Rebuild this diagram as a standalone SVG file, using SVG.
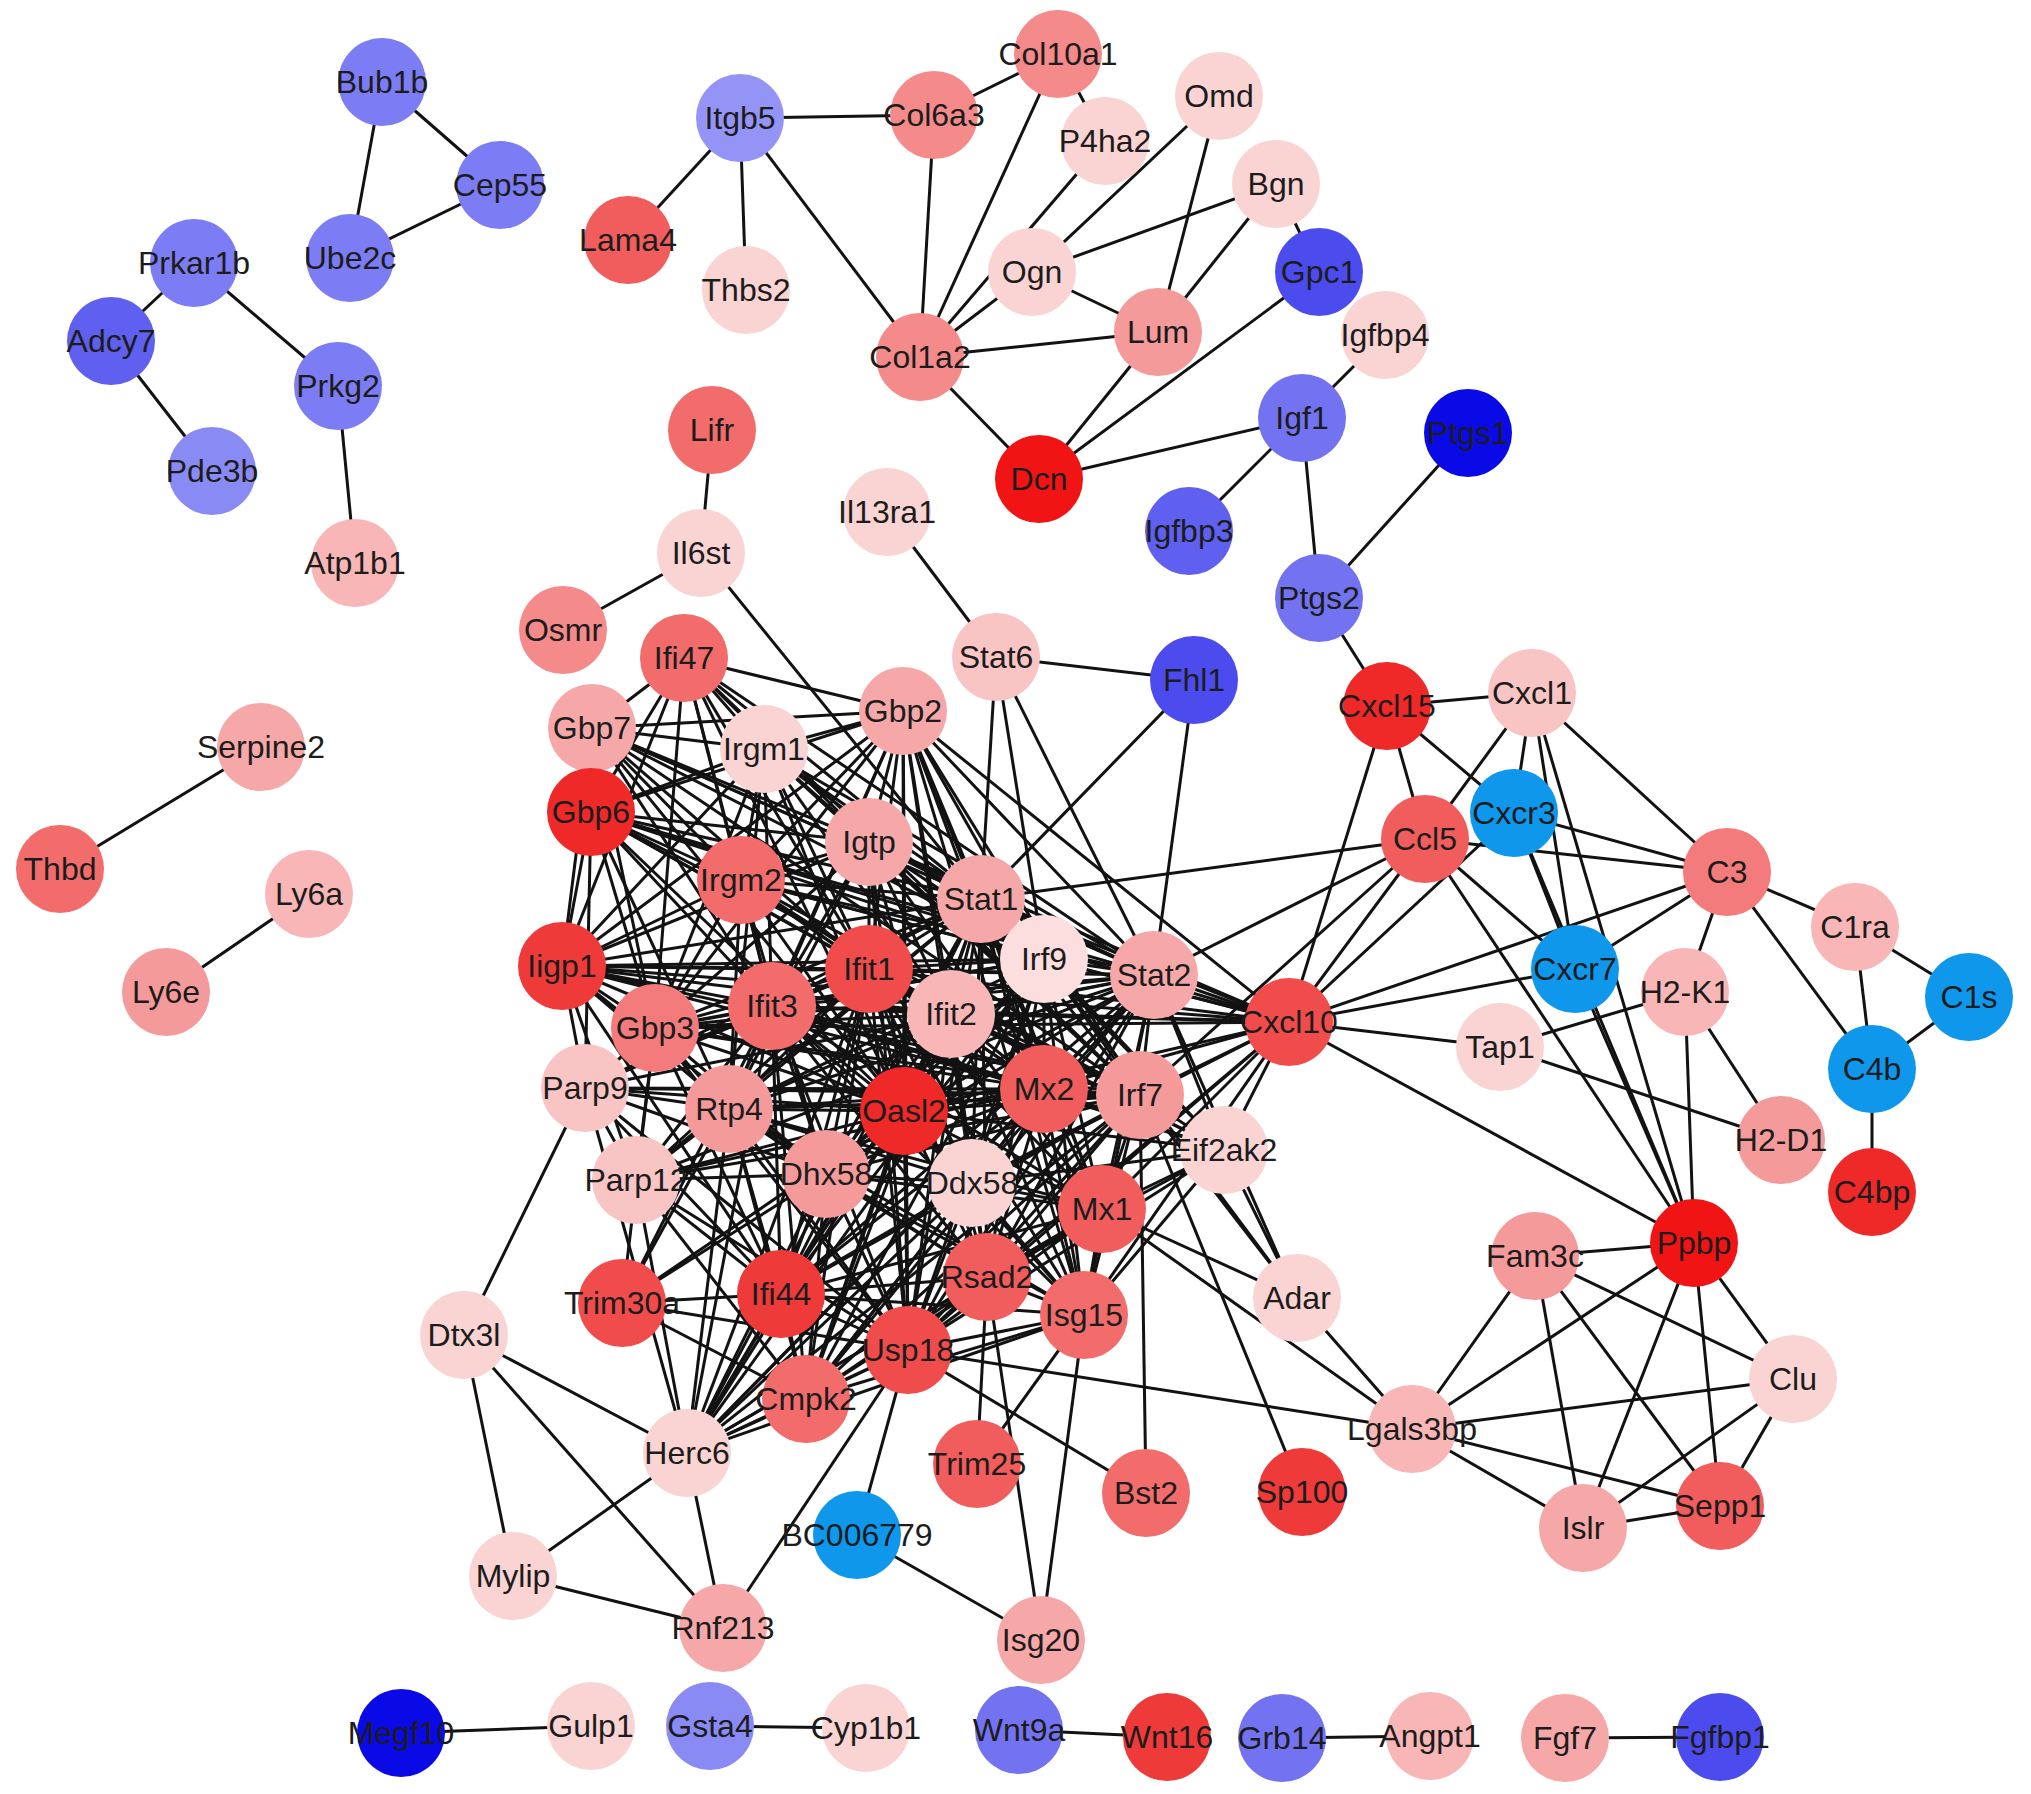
<svg xmlns="http://www.w3.org/2000/svg" width="2031" height="1794" viewBox="0 0 2031 1794">
<style>
.e path{stroke:#121212;stroke-width:3;fill:none}
circle{stroke:none}
text{font-family:"Liberation Sans",Arial,sans-serif;font-size:32px;fill:#1c1c1c;text-anchor:middle}
.dB{fill:#0a0ae6}.cy{fill:#0f97ec}.b1{fill:#4c4cee}.b2{fill:#5f5ff0}.b3{fill:#7373f2}.b4{fill:#7c7cf4}.b5{fill:#8a8af5}.b6{fill:#9494f6}
.r1{fill:#f01414}.r2{fill:#ef2828}.r3{fill:#ef3a3a}.r4{fill:#f04c4c}.r5{fill:#f15c5c}.r6{fill:#f26c6c}.r7{fill:#f37b7b}.r8{fill:#f48a8a}.r9{fill:#f59a9a}.r10{fill:#f6a8a8}.r11{fill:#f8b6b6}.r12{fill:#f9c4c4}.r13{fill:#fad3d3}.r14{fill:#fcdede}
</style>
<rect width="2031" height="1794" fill="#ffffff"/>
<g class="e" id="connectors">
<path d="M382 82 500 185"/><path d="M382 82 350 258"/><path d="M350 258 500 185"/><path d="M194 263 111 341"/><path d="M194 263 338 386"/><path d="M111 341 212 471"/><path d="M338 386 355 563"/>
<path d="M261 747 60 869"/><path d="M309 894 166 992"/>
<path d="M401 1733 591 1726"/><path d="M710 1726 866 1728"/><path d="M1019 1730 1167 1737"/><path d="M1282 1738 1430 1736"/><path d="M1565 1738 1720 1737"/>
<path d="M740 118 934 115"/><path d="M740 118 628 240"/><path d="M740 118 746 290"/><path d="M740 118 920 357"/><path d="M934 115 1058 54"/><path d="M934 115 920 357"/><path d="M1058 54 920 357"/><path d="M1058 54 1105 141"/><path d="M1105 141 920 357"/><path d="M1219 96 1032 272"/><path d="M1219 96 1158 332"/><path d="M1276 184 1032 272"/><path d="M1276 184 1158 332"/><path d="M1276 184 1319 272"/><path d="M1032 272 1158 332"/><path d="M1032 272 920 357"/><path d="M920 357 1158 332"/><path d="M920 357 1039 479"/><path d="M1158 332 1039 479"/><path d="M1319 272 1039 479"/><path d="M1039 479 1302 418"/><path d="M1302 418 1385 335"/><path d="M1302 418 1189 531"/><path d="M1302 418 1319 598"/><path d="M1319 598 1468 433"/><path d="M1319 598 1387 706"/>
<path d="M712 430 701 553"/><path d="M701 553 563 630"/><path d="M701 553 981 899"/><path d="M887 512 996 657"/><path d="M996 657 1194 680"/><path d="M996 657 981 899"/><path d="M996 657 1044 959"/><path d="M996 657 1154 975"/><path d="M1194 680 981 899"/><path d="M1194 680 1154 975"/>
<path d="M1387 706 1532 693"/><path d="M1387 706 1514 813"/><path d="M1387 706 1425 839"/><path d="M1387 706 1289 1022"/><path d="M1532 693 1425 839"/><path d="M1532 693 1514 813"/><path d="M1532 693 1575 969"/><path d="M1532 693 1694 1243"/><path d="M1532 693 1727 872"/><path d="M1514 813 1727 872"/><path d="M1514 813 1575 969"/><path d="M1514 813 1694 1243"/><path d="M1514 813 1289 1022"/><path d="M1425 839 1727 872"/><path d="M1425 839 1575 969"/><path d="M1425 839 1694 1243"/><path d="M1425 839 1289 1022"/><path d="M1425 839 981 899"/><path d="M1425 839 1140 1095"/><path d="M1425 839 1154 975"/><path d="M1727 872 1575 969"/><path d="M1727 872 1289 1022"/><path d="M1727 872 1855 927"/><path d="M1727 872 1685 992"/><path d="M1727 872 1872 1069"/><path d="M1855 927 1872 1069"/><path d="M1855 927 1969 997"/><path d="M1969 997 1872 1069"/><path d="M1872 1069 1872 1192"/><path d="M1575 969 1289 1022"/><path d="M1575 969 1694 1243"/><path d="M1685 992 1500 1047"/><path d="M1685 992 1781 1140"/><path d="M1685 992 1694 1243"/><path d="M1500 1047 1289 1022"/><path d="M1500 1047 1781 1140"/><path d="M1289 1022 1694 1243"/>
<path d="M1694 1243 1535 1256"/><path d="M1694 1243 1412 1429"/><path d="M1694 1243 1583 1528"/><path d="M1694 1243 1720 1506"/><path d="M1694 1243 1793 1379"/><path d="M1535 1256 1412 1429"/><path d="M1535 1256 1583 1528"/><path d="M1535 1256 1720 1506"/><path d="M1535 1256 1793 1379"/><path d="M1793 1379 1412 1429"/><path d="M1793 1379 1583 1528"/><path d="M1793 1379 1720 1506"/><path d="M1412 1429 1583 1528"/><path d="M1412 1429 1720 1506"/><path d="M1583 1528 1720 1506"/>
<path d="M1297 1298 1412 1429"/><path d="M908 1350 1412 1429"/><path d="M1102 1209 1412 1429"/><path d="M1102 1209 1297 1298"/><path d="M1224 1150 1297 1298"/><path d="M1154 975 1297 1298"/><path d="M1044 959 1297 1298"/><path d="M1140 1095 1297 1298"/><path d="M1302 1492 1140 1095"/><path d="M1146 1493 1140 1095"/><path d="M1146 1493 908 1350"/>
<path d="M1289 1022 981 899"/><path d="M1289 1022 1154 975"/><path d="M1289 1022 1044 959"/><path d="M1289 1022 1140 1095"/><path d="M1289 1022 1044 1089"/><path d="M1289 1022 1102 1209"/><path d="M1289 1022 869 969"/><path d="M1289 1022 951 1014"/><path d="M1289 1022 772 1006"/><path d="M1289 1022 904 1111"/><path d="M1289 1022 987 1277"/><path d="M1289 1022 1084 1315"/><path d="M1289 1022 908 1350"/><path d="M1289 1022 972 1183"/><path d="M1289 1022 1224 1150"/>
<path d="M1224 1150 981 899"/><path d="M1224 1150 1154 975"/><path d="M1224 1150 1044 959"/><path d="M1224 1150 1140 1095"/><path d="M1224 1150 1044 1089"/><path d="M1224 1150 1102 1209"/><path d="M1224 1150 1084 1315"/><path d="M1224 1150 904 1111"/><path d="M1224 1150 869 969"/><path d="M1224 1150 951 1014"/><path d="M1224 1150 772 1006"/><path d="M1224 1150 987 1277"/><path d="M1224 1150 908 1350"/><path d="M1224 1150 972 1183"/>
<path d="M869 969 772 1006"/><path d="M869 969 951 1014"/><path d="M869 969 904 1111"/><path d="M869 969 1044 1089"/><path d="M869 969 1140 1095"/><path d="M869 969 729 1109"/><path d="M869 969 826 1174"/><path d="M869 969 972 1183"/><path d="M869 969 1102 1209"/><path d="M869 969 781 1294"/><path d="M869 969 987 1277"/><path d="M869 969 1084 1315"/><path d="M869 969 908 1350"/><path d="M869 969 806 1399"/><path d="M869 969 1044 959"/><path d="M869 969 1154 975"/><path d="M869 969 981 899"/>
<path d="M772 1006 951 1014"/><path d="M772 1006 904 1111"/><path d="M772 1006 1044 1089"/><path d="M772 1006 1140 1095"/><path d="M772 1006 729 1109"/><path d="M772 1006 826 1174"/><path d="M772 1006 972 1183"/><path d="M772 1006 1102 1209"/><path d="M772 1006 781 1294"/><path d="M772 1006 987 1277"/><path d="M772 1006 1084 1315"/><path d="M772 1006 908 1350"/><path d="M772 1006 806 1399"/><path d="M772 1006 1044 959"/><path d="M772 1006 1154 975"/><path d="M772 1006 981 899"/>
<path d="M951 1014 904 1111"/><path d="M951 1014 1044 1089"/><path d="M951 1014 1140 1095"/><path d="M951 1014 729 1109"/><path d="M951 1014 826 1174"/><path d="M951 1014 972 1183"/><path d="M951 1014 1102 1209"/><path d="M951 1014 781 1294"/><path d="M951 1014 987 1277"/><path d="M951 1014 1084 1315"/><path d="M951 1014 908 1350"/><path d="M951 1014 806 1399"/><path d="M951 1014 1044 959"/><path d="M951 1014 1154 975"/><path d="M951 1014 981 899"/>
<path d="M904 1111 1044 1089"/><path d="M904 1111 1140 1095"/><path d="M904 1111 729 1109"/><path d="M904 1111 826 1174"/><path d="M904 1111 972 1183"/><path d="M904 1111 1102 1209"/><path d="M904 1111 781 1294"/><path d="M904 1111 987 1277"/><path d="M904 1111 1084 1315"/><path d="M904 1111 908 1350"/><path d="M904 1111 806 1399"/><path d="M904 1111 1044 959"/><path d="M904 1111 1154 975"/><path d="M904 1111 981 899"/>
<path d="M1044 1089 1140 1095"/><path d="M1044 1089 729 1109"/><path d="M1044 1089 826 1174"/><path d="M1044 1089 972 1183"/><path d="M1044 1089 1102 1209"/><path d="M1044 1089 781 1294"/><path d="M1044 1089 987 1277"/><path d="M1044 1089 1084 1315"/><path d="M1044 1089 908 1350"/><path d="M1044 1089 806 1399"/><path d="M1044 1089 1044 959"/><path d="M1044 1089 1154 975"/><path d="M1044 1089 981 899"/>
<path d="M1140 1095 729 1109"/><path d="M1140 1095 826 1174"/><path d="M1140 1095 972 1183"/><path d="M1140 1095 1102 1209"/><path d="M1140 1095 781 1294"/><path d="M1140 1095 987 1277"/><path d="M1140 1095 1084 1315"/><path d="M1140 1095 908 1350"/><path d="M1140 1095 806 1399"/><path d="M1140 1095 1044 959"/><path d="M1140 1095 1154 975"/><path d="M1140 1095 981 899"/>
<path d="M729 1109 826 1174"/><path d="M729 1109 972 1183"/><path d="M729 1109 1102 1209"/><path d="M729 1109 781 1294"/><path d="M729 1109 987 1277"/><path d="M729 1109 1084 1315"/><path d="M729 1109 908 1350"/><path d="M729 1109 806 1399"/><path d="M729 1109 1044 959"/><path d="M729 1109 1154 975"/><path d="M729 1109 981 899"/>
<path d="M826 1174 972 1183"/><path d="M826 1174 1102 1209"/><path d="M826 1174 781 1294"/><path d="M826 1174 987 1277"/><path d="M826 1174 1084 1315"/><path d="M826 1174 908 1350"/><path d="M826 1174 806 1399"/><path d="M826 1174 1044 959"/><path d="M826 1174 1154 975"/><path d="M826 1174 981 899"/>
<path d="M972 1183 1102 1209"/><path d="M972 1183 781 1294"/><path d="M972 1183 987 1277"/><path d="M972 1183 1084 1315"/><path d="M972 1183 908 1350"/><path d="M972 1183 806 1399"/><path d="M972 1183 1044 959"/><path d="M972 1183 1154 975"/><path d="M972 1183 981 899"/>
<path d="M1102 1209 781 1294"/><path d="M1102 1209 987 1277"/><path d="M1102 1209 1084 1315"/><path d="M1102 1209 908 1350"/><path d="M1102 1209 806 1399"/><path d="M1102 1209 1044 959"/><path d="M1102 1209 1154 975"/><path d="M1102 1209 981 899"/>
<path d="M781 1294 987 1277"/><path d="M781 1294 1084 1315"/><path d="M781 1294 908 1350"/><path d="M781 1294 806 1399"/><path d="M781 1294 1044 959"/><path d="M781 1294 1154 975"/><path d="M781 1294 981 899"/>
<path d="M987 1277 1084 1315"/><path d="M987 1277 908 1350"/><path d="M987 1277 806 1399"/><path d="M987 1277 1044 959"/><path d="M987 1277 1154 975"/><path d="M987 1277 981 899"/>
<path d="M1084 1315 908 1350"/><path d="M1084 1315 806 1399"/><path d="M1084 1315 1044 959"/><path d="M1084 1315 1154 975"/><path d="M1084 1315 981 899"/>
<path d="M908 1350 806 1399"/><path d="M908 1350 1044 959"/><path d="M908 1350 1154 975"/><path d="M908 1350 981 899"/>
<path d="M806 1399 1044 959"/><path d="M806 1399 1154 975"/><path d="M806 1399 981 899"/>
<path d="M1044 959 1154 975"/><path d="M1044 959 981 899"/><path d="M1154 975 981 899"/>
<path d="M684 658 903 711"/><path d="M684 658 592 728"/><path d="M684 658 764 749"/><path d="M684 658 591 812"/><path d="M684 658 869 842"/><path d="M684 658 741 880"/><path d="M684 658 562 966"/><path d="M684 658 655 1028"/>
<path d="M903 711 592 728"/><path d="M903 711 764 749"/><path d="M903 711 591 812"/><path d="M903 711 869 842"/><path d="M903 711 741 880"/><path d="M903 711 562 966"/><path d="M903 711 655 1028"/>
<path d="M592 728 764 749"/><path d="M592 728 591 812"/><path d="M592 728 869 842"/><path d="M592 728 741 880"/><path d="M592 728 562 966"/><path d="M592 728 655 1028"/>
<path d="M764 749 591 812"/><path d="M764 749 869 842"/><path d="M764 749 741 880"/><path d="M764 749 562 966"/><path d="M764 749 655 1028"/>
<path d="M591 812 869 842"/><path d="M591 812 741 880"/><path d="M591 812 562 966"/><path d="M591 812 655 1028"/>
<path d="M869 842 741 880"/><path d="M869 842 562 966"/><path d="M869 842 655 1028"/><path d="M741 880 562 966"/><path d="M741 880 655 1028"/><path d="M562 966 655 1028"/>
<path d="M903 711 981 899"/><path d="M903 711 869 969"/><path d="M903 711 951 1014"/><path d="M903 711 772 1006"/><path d="M903 711 1044 959"/><path d="M903 711 1154 975"/><path d="M903 711 904 1111"/><path d="M903 711 1044 1089"/><path d="M903 711 1140 1095"/><path d="M903 711 1289 1022"/><path d="M903 711 729 1109"/><path d="M903 711 972 1183"/><path d="M903 711 1102 1209"/><path d="M903 711 908 1350"/><path d="M903 711 1084 1315"/>
<path d="M869 842 981 899"/><path d="M869 842 869 969"/><path d="M869 842 951 1014"/><path d="M869 842 772 1006"/><path d="M869 842 1044 959"/><path d="M869 842 1154 975"/><path d="M869 842 904 1111"/><path d="M869 842 1044 1089"/><path d="M869 842 1140 1095"/><path d="M869 842 729 1109"/><path d="M869 842 908 1350"/><path d="M869 842 987 1277"/><path d="M869 842 1289 1022"/>
<path d="M764 749 981 899"/><path d="M764 749 869 969"/><path d="M764 749 772 1006"/><path d="M764 749 951 1014"/><path d="M764 749 1044 959"/><path d="M764 749 1154 975"/><path d="M764 749 904 1111"/><path d="M764 749 729 1109"/><path d="M764 749 1140 1095"/>
<path d="M741 880 981 899"/><path d="M741 880 869 969"/><path d="M741 880 772 1006"/><path d="M741 880 951 1014"/><path d="M741 880 1044 959"/><path d="M741 880 1154 975"/><path d="M741 880 904 1111"/><path d="M741 880 729 1109"/><path d="M741 880 1044 1089"/><path d="M741 880 1140 1095"/><path d="M741 880 826 1174"/><path d="M741 880 1289 1022"/>
<path d="M562 966 981 899"/><path d="M562 966 869 969"/><path d="M562 966 772 1006"/><path d="M562 966 951 1014"/><path d="M562 966 1044 959"/><path d="M562 966 1154 975"/><path d="M562 966 904 1111"/><path d="M562 966 729 1109"/><path d="M562 966 1044 1089"/><path d="M562 966 1140 1095"/><path d="M562 966 1289 1022"/><path d="M562 966 585 1088"/><path d="M562 966 781 1294"/><path d="M562 966 826 1174"/>
<path d="M591 812 981 899"/><path d="M591 812 869 969"/><path d="M591 812 772 1006"/><path d="M591 812 951 1014"/><path d="M591 812 1044 959"/><path d="M591 812 1154 975"/><path d="M591 812 904 1111"/><path d="M591 812 729 1109"/><path d="M591 812 1140 1095"/><path d="M591 812 1289 1022"/><path d="M591 812 585 1088"/>
<path d="M592 728 981 899"/><path d="M592 728 869 969"/><path d="M592 728 772 1006"/><path d="M592 728 1044 959"/><path d="M592 728 904 1111"/><path d="M592 728 1140 1095"/><path d="M592 728 1154 975"/>
<path d="M684 658 981 899"/><path d="M684 658 772 1006"/><path d="M684 658 904 1111"/><path d="M684 658 1140 1095"/><path d="M684 658 1154 975"/><path d="M684 658 869 969"/>
<path d="M655 1028 981 899"/><path d="M655 1028 869 969"/><path d="M655 1028 772 1006"/><path d="M655 1028 951 1014"/><path d="M655 1028 1044 959"/><path d="M655 1028 1154 975"/><path d="M655 1028 904 1111"/><path d="M655 1028 729 1109"/><path d="M655 1028 1044 1089"/><path d="M655 1028 1140 1095"/><path d="M655 1028 1289 1022"/><path d="M655 1028 585 1088"/><path d="M655 1028 826 1174"/><path d="M655 1028 781 1294"/><path d="M655 1028 908 1350"/>
<path d="M585 1088 464 1335"/><path d="M585 1088 729 1109"/><path d="M585 1088 904 1111"/><path d="M585 1088 869 969"/><path d="M585 1088 981 899"/><path d="M585 1088 1154 975"/><path d="M585 1088 1140 1095"/><path d="M585 1088 636 1180"/><path d="M585 1088 781 1294"/><path d="M585 1088 908 1350"/><path d="M585 1088 687 1453"/><path d="M585 1088 772 1006"/><path d="M585 1088 1044 1089"/><path d="M585 1088 826 1174"/>
<path d="M636 1180 772 1006"/><path d="M636 1180 729 1109"/><path d="M636 1180 904 1111"/><path d="M636 1180 869 969"/><path d="M636 1180 1140 1095"/><path d="M636 1180 826 1174"/><path d="M636 1180 781 1294"/><path d="M636 1180 908 1350"/><path d="M636 1180 687 1453"/><path d="M636 1180 562 966"/><path d="M636 1180 655 1028"/><path d="M636 1180 981 899"/><path d="M636 1180 1154 975"/><path d="M636 1180 806 1399"/><path d="M636 1180 1044 1089"/>
<path d="M622 1303 781 1294"/><path d="M622 1303 908 1350"/><path d="M622 1303 729 1109"/><path d="M622 1303 772 1006"/><path d="M622 1303 655 1028"/><path d="M622 1303 904 1111"/><path d="M622 1303 826 1174"/><path d="M622 1303 806 1399"/>
<path d="M687 1453 806 1399"/><path d="M687 1453 908 1350"/><path d="M687 1453 1084 1315"/><path d="M687 1453 987 1277"/><path d="M687 1453 781 1294"/><path d="M687 1453 826 1174"/><path d="M687 1453 972 1183"/><path d="M687 1453 904 1111"/><path d="M687 1453 1102 1209"/><path d="M687 1453 1044 1089"/><path d="M687 1453 1140 1095"/><path d="M687 1453 869 969"/><path d="M687 1453 772 1006"/><path d="M687 1453 729 1109"/><path d="M687 1453 981 899"/><path d="M687 1453 1154 975"/><path d="M687 1453 1044 959"/><path d="M687 1453 951 1014"/><path d="M687 1453 464 1335"/><path d="M687 1453 513 1576"/><path d="M687 1453 723 1628"/>
<path d="M464 1335 513 1576"/><path d="M464 1335 723 1628"/><path d="M513 1576 723 1628"/><path d="M723 1628 908 1350"/><path d="M857 1535 908 1350"/><path d="M857 1535 1041 1640"/><path d="M1041 1640 987 1277"/><path d="M1041 1640 1084 1315"/><path d="M977 1464 987 1277"/><path d="M977 1464 1084 1315"/>
</g>
<g id="n-Bub1b"><circle class="b4" cx="382" cy="82" r="44"/><text x="382" y="93">Bub1b</text></g>
<g id="n-Cep55"><circle class="b4" cx="500" cy="185" r="44"/><text x="500" y="196">Cep55</text></g>
<g id="n-Ube2c"><circle class="b4" cx="350" cy="258" r="44"/><text x="350" y="269">Ube2c</text></g>
<g id="n-Prkar1b"><circle class="b4" cx="194" cy="263" r="44"/><text x="194" y="274">Prkar1b</text></g>
<g id="n-Adcy7"><circle class="b2" cx="111" cy="341" r="44"/><text x="111" y="352">Adcy7</text></g>
<g id="n-Prkg2"><circle class="b4" cx="338" cy="386" r="44"/><text x="338" y="397">Prkg2</text></g>
<g id="n-Pde3b"><circle class="b5" cx="212" cy="471" r="44"/><text x="212" y="482">Pde3b</text></g>
<g id="n-Atp1b1"><circle class="r11" cx="355" cy="563" r="44"/><text x="355" y="574">Atp1b1</text></g>
<g id="n-Itgb5"><circle class="b6" cx="740" cy="118" r="44"/><text x="740" y="129">Itgb5</text></g>
<g id="n-Col6a3"><circle class="r8" cx="934" cy="115" r="44"/><text x="934" y="126">Col6a3</text></g>
<g id="n-Col10a1"><circle class="r8" cx="1058" cy="54" r="44"/><text x="1058" y="65">Col10a1</text></g>
<g id="n-Omd"><circle class="r13" cx="1219" cy="96" r="44"/><text x="1219" y="107">Omd</text></g>
<g id="n-P4ha2"><circle class="r13" cx="1105" cy="141" r="44"/><text x="1105" y="152">P4ha2</text></g>
<g id="n-Bgn"><circle class="r13" cx="1276" cy="184" r="44"/><text x="1276" y="195">Bgn</text></g>
<g id="n-Lama4"><circle class="r5" cx="628" cy="240" r="44"/><text x="628" y="251">Lama4</text></g>
<g id="n-Thbs2"><circle class="r13" cx="746" cy="290" r="44"/><text x="746" y="301">Thbs2</text></g>
<g id="n-Ogn"><circle class="r13" cx="1032" cy="272" r="44"/><text x="1032" y="283">Ogn</text></g>
<g id="n-Gpc1"><circle class="b1" cx="1319" cy="272" r="44"/><text x="1319" y="283">Gpc1</text></g>
<g id="n-Lum"><circle class="r9" cx="1158" cy="332" r="44"/><text x="1158" y="343">Lum</text></g>
<g id="n-Col1a2"><circle class="r8" cx="920" cy="357" r="44"/><text x="920" y="368">Col1a2</text></g>
<g id="n-Igfbp4"><circle class="r13" cx="1385" cy="335" r="44"/><text x="1385" y="346">Igfbp4</text></g>
<g id="n-Igf1"><circle class="b3" cx="1302" cy="418" r="44"/><text x="1302" y="429">Igf1</text></g>
<g id="n-Dcn"><circle class="r1" cx="1039" cy="479" r="44"/><text x="1039" y="490">Dcn</text></g>
<g id="n-Igfbp3"><circle class="b2" cx="1189" cy="531" r="44"/><text x="1189" y="542">Igfbp3</text></g>
<g id="n-Ptgs1"><circle class="dB" cx="1468" cy="433" r="44"/><text x="1468" y="444">Ptgs1</text></g>
<g id="n-Ptgs2"><circle class="b3" cx="1319" cy="598" r="44"/><text x="1319" y="609">Ptgs2</text></g>
<g id="n-Lifr"><circle class="r6" cx="712" cy="430" r="44"/><text x="712" y="441">Lifr</text></g>
<g id="n-Il13ra1"><circle class="r13" cx="887" cy="512" r="44"/><text x="887" y="523">Il13ra1</text></g>
<g id="n-Il6st"><circle class="r13" cx="701" cy="553" r="44"/><text x="701" y="564">Il6st</text></g>
<g id="n-Osmr"><circle class="r8" cx="563" cy="630" r="44"/><text x="563" y="641">Osmr</text></g>
<g id="n-Stat6"><circle class="r12" cx="996" cy="657" r="44"/><text x="996" y="668">Stat6</text></g>
<g id="n-Fhl1"><circle class="b1" cx="1194" cy="680" r="44"/><text x="1194" y="691">Fhl1</text></g>
<g id="n-Cxcl15"><circle class="r2" cx="1387" cy="706" r="44"/><text x="1387" y="717">Cxcl15</text></g>
<g id="n-Cxcl1"><circle class="r12" cx="1532" cy="693" r="44"/><text x="1532" y="704">Cxcl1</text></g>
<g id="n-Cxcr3"><circle class="cy" cx="1514" cy="813" r="44"/><text x="1514" y="824">Cxcr3</text></g>
<g id="n-Ccl5"><circle class="r5" cx="1425" cy="839" r="44"/><text x="1425" y="850">Ccl5</text></g>
<g id="n-C3"><circle class="r7" cx="1727" cy="872" r="44"/><text x="1727" y="883">C3</text></g>
<g id="n-C1ra"><circle class="r11" cx="1855" cy="927" r="44"/><text x="1855" y="938">C1ra</text></g>
<g id="n-C1s"><circle class="cy" cx="1969" cy="997" r="44"/><text x="1969" y="1008">C1s</text></g>
<g id="n-Cxcr7"><circle class="cy" cx="1575" cy="969" r="44"/><text x="1575" y="980">Cxcr7</text></g>
<g id="n-H2-K1"><circle class="r11" cx="1685" cy="992" r="44"/><text x="1685" y="1003">H2-K1</text></g>
<g id="n-C4b"><circle class="cy" cx="1872" cy="1069" r="44"/><text x="1872" y="1080">C4b</text></g>
<g id="n-Tap1"><circle class="r13" cx="1500" cy="1047" r="44"/><text x="1500" y="1058">Tap1</text></g>
<g id="n-H2-D1"><circle class="r9" cx="1781" cy="1140" r="44"/><text x="1781" y="1151">H2-D1</text></g>
<g id="n-C4bp"><circle class="r2" cx="1872" cy="1192" r="44"/><text x="1872" y="1203">C4bp</text></g>
<g id="n-Ppbp"><circle class="r1" cx="1694" cy="1243" r="44"/><text x="1694" y="1254">Ppbp</text></g>
<g id="n-Fam3c"><circle class="r9" cx="1535" cy="1256" r="44"/><text x="1535" y="1267">Fam3c</text></g>
<g id="n-Clu"><circle class="r13" cx="1793" cy="1379" r="44"/><text x="1793" y="1390">Clu</text></g>
<g id="n-Lgals3bp"><circle class="r11" cx="1412" cy="1429" r="44"/><text x="1412" y="1440">Lgals3bp</text></g>
<g id="n-Islr"><circle class="r10" cx="1583" cy="1528" r="44"/><text x="1583" y="1539">Islr</text></g>
<g id="n-Sepp1"><circle class="r5" cx="1720" cy="1506" r="44"/><text x="1720" y="1517">Sepp1</text></g>
<g id="n-Sp100"><circle class="r3" cx="1302" cy="1492" r="44"/><text x="1302" y="1503">Sp100</text></g>
<g id="n-Bst2"><circle class="r6" cx="1146" cy="1493" r="44"/><text x="1146" y="1504">Bst2</text></g>
<g id="n-Adar"><circle class="r13" cx="1297" cy="1298" r="44"/><text x="1297" y="1309">Adar</text></g>
<g id="n-Eif2ak2"><circle class="r13" cx="1224" cy="1150" r="44"/><text x="1224" y="1161">Eif2ak2</text></g>
<g id="n-Cxcl10"><circle class="r4" cx="1289" cy="1022" r="44"/><text x="1289" y="1033">Cxcl10</text></g>
<g id="n-Ifi47"><circle class="r6" cx="684" cy="658" r="44"/><text x="684" y="669">Ifi47</text></g>
<g id="n-Gbp2"><circle class="r10" cx="903" cy="711" r="44"/><text x="903" y="722">Gbp2</text></g>
<g id="n-Gbp7"><circle class="r10" cx="592" cy="728" r="44"/><text x="592" y="739">Gbp7</text></g>
<g id="n-Irgm1"><circle class="r13" cx="764" cy="749" r="44"/><text x="764" y="760">Irgm1</text></g>
<g id="n-Gbp6"><circle class="r2" cx="591" cy="812" r="44"/><text x="591" y="823">Gbp6</text></g>
<g id="n-Igtp"><circle class="r10" cx="869" cy="842" r="44"/><text x="869" y="853">Igtp</text></g>
<g id="n-Irgm2"><circle class="r6" cx="741" cy="880" r="44"/><text x="741" y="891">Irgm2</text></g>
<g id="n-Stat1"><circle class="r10" cx="981" cy="899" r="44"/><text x="981" y="910">Stat1</text></g>
<g id="n-Iigp1"><circle class="r3" cx="562" cy="966" r="44"/><text x="562" y="977">Iigp1</text></g>
<g id="n-Ifit1"><circle class="r4" cx="869" cy="969" r="44"/><text x="869" y="980">Ifit1</text></g>
<g id="n-Irf9"><circle class="r14" cx="1044" cy="959" r="44"/><text x="1044" y="970">Irf9</text></g>
<g id="n-Stat2"><circle class="r10" cx="1154" cy="975" r="44"/><text x="1154" y="986">Stat2</text></g>
<g id="n-Gbp3"><circle class="r7" cx="655" cy="1028" r="44"/><text x="655" y="1039">Gbp3</text></g>
<g id="n-Ifit3"><circle class="r6" cx="772" cy="1006" r="44"/><text x="772" y="1017">Ifit3</text></g>
<g id="n-Ifit2"><circle class="r11" cx="951" cy="1014" r="44"/><text x="951" y="1025">Ifit2</text></g>
<g id="n-Parp9"><circle class="r12" cx="585" cy="1088" r="44"/><text x="585" y="1099">Parp9</text></g>
<g id="n-Rtp4"><circle class="r9" cx="729" cy="1109" r="44"/><text x="729" y="1120">Rtp4</text></g>
<g id="n-Oasl2"><circle class="r2" cx="904" cy="1111" r="44"/><text x="904" y="1122">Oasl2</text></g>
<g id="n-Mx2"><circle class="r5" cx="1044" cy="1089" r="44"/><text x="1044" y="1100">Mx2</text></g>
<g id="n-Irf7"><circle class="r9" cx="1140" cy="1095" r="44"/><text x="1140" y="1106">Irf7</text></g>
<g id="n-Parp12"><circle class="r12" cx="636" cy="1180" r="44"/><text x="636" y="1191">Parp12</text></g>
<g id="n-Dhx58"><circle class="r9" cx="826" cy="1174" r="44"/><text x="826" y="1185">Dhx58</text></g>
<g id="n-Ddx58"><circle class="r13" cx="972" cy="1183" r="44"/><text x="972" y="1194">Ddx58</text></g>
<g id="n-Mx1"><circle class="r5" cx="1102" cy="1209" r="44"/><text x="1102" y="1220">Mx1</text></g>
<g id="n-Trim30a"><circle class="r4" cx="622" cy="1303" r="44"/><text x="622" y="1314">Trim30a</text></g>
<g id="n-Ifi44"><circle class="r3" cx="781" cy="1294" r="44"/><text x="781" y="1305">Ifi44</text></g>
<g id="n-Rsad2"><circle class="r5" cx="987" cy="1277" r="44"/><text x="987" y="1288">Rsad2</text></g>
<g id="n-Isg15"><circle class="r6" cx="1084" cy="1315" r="44"/><text x="1084" y="1326">Isg15</text></g>
<g id="n-Usp18"><circle class="r4" cx="908" cy="1350" r="44"/><text x="908" y="1361">Usp18</text></g>
<g id="n-Dtx3l"><circle class="r13" cx="464" cy="1335" r="44"/><text x="464" y="1346">Dtx3l</text></g>
<g id="n-Cmpk2"><circle class="r6" cx="806" cy="1399" r="44"/><text x="806" y="1410">Cmpk2</text></g>
<g id="n-Herc6"><circle class="r13" cx="687" cy="1453" r="44"/><text x="687" y="1464">Herc6</text></g>
<g id="n-Trim25"><circle class="r5" cx="977" cy="1464" r="44"/><text x="977" y="1475">Trim25</text></g>
<g id="n-Mylip"><circle class="r13" cx="513" cy="1576" r="44"/><text x="513" y="1587">Mylip</text></g>
<g id="n-BC006779"><circle class="cy" cx="857" cy="1535" r="44"/><text x="857" y="1546">BC006779</text></g>
<g id="n-Rnf213"><circle class="r10" cx="723" cy="1628" r="44"/><text x="723" y="1639">Rnf213</text></g>
<g id="n-Isg20"><circle class="r10" cx="1041" cy="1640" r="44"/><text x="1041" y="1651">Isg20</text></g>
<g id="n-Serpine2"><circle class="r10" cx="261" cy="747" r="44"/><text x="261" y="758">Serpine2</text></g>
<g id="n-Thbd"><circle class="r6" cx="60" cy="869" r="44"/><text x="60" y="880">Thbd</text></g>
<g id="n-Ly6a"><circle class="r11" cx="309" cy="894" r="44"/><text x="309" y="905">Ly6a</text></g>
<g id="n-Ly6e"><circle class="r9" cx="166" cy="992" r="44"/><text x="166" y="1003">Ly6e</text></g>
<g id="n-Megf10"><circle class="dB" cx="401" cy="1733" r="44"/><text x="401" y="1744">Megf10</text></g>
<g id="n-Gulp1"><circle class="r13" cx="591" cy="1726" r="44"/><text x="591" y="1737">Gulp1</text></g>
<g id="n-Gsta4"><circle class="b5" cx="710" cy="1726" r="44"/><text x="710" y="1737">Gsta4</text></g>
<g id="n-Cyp1b1"><circle class="r13" cx="866" cy="1728" r="44"/><text x="866" y="1739">Cyp1b1</text></g>
<g id="n-Wnt9a"><circle class="b3" cx="1019" cy="1730" r="44"/><text x="1019" y="1741">Wnt9a</text></g>
<g id="n-Wnt16"><circle class="r3" cx="1167" cy="1737" r="44"/><text x="1167" y="1748">Wnt16</text></g>
<g id="n-Grb14"><circle class="b3" cx="1282" cy="1738" r="44"/><text x="1282" y="1749">Grb14</text></g>
<g id="n-Angpt1"><circle class="r11" cx="1430" cy="1736" r="44"/><text x="1430" y="1747">Angpt1</text></g>
<g id="n-Fgf7"><circle class="r10" cx="1565" cy="1738" r="44"/><text x="1565" y="1749">Fgf7</text></g>
<g id="n-Fgfbp1"><circle class="b1" cx="1720" cy="1737" r="44"/><text x="1720" y="1748">Fgfbp1</text></g>
</svg>
